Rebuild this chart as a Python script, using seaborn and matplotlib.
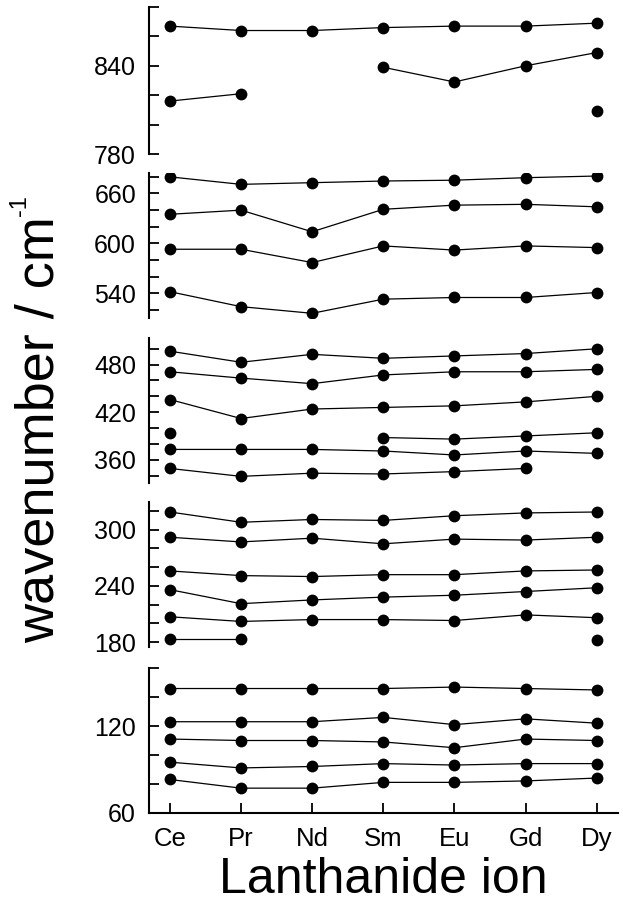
import numpy as np
import pandas as pd
import matplotlib
matplotlib.use("Agg")
import matplotlib.pyplot as plt
from matplotlib.ticker import MultipleLocator
import seaborn as sns

# lanthanide ions on the x axis
ions = ["Ce", "Pr", "Nd", "Sm", "Eu", "Gd", "Dy"]
nan = np.nan

# band positions (cm-1), one list per band, NaN = not observed
# panel 1 (780-880)
p1_a = [867, 864, 864, 866, 867, 867, 869]
p1_b = [816, 821, nan, 839, 829, 840, 849]
p1_c = [nan, nan, nan, nan, nan, nan, 809]
# panel 2 (510-685)
p2_a = [680, 671, 673, 675, 676, 679, 681]
p2_b = [635, 640, 614, 641, 646, 647, 644]
p2_c = [593, 593, 577, 597, 592, 597, 595]
p2_d = [542, 524, 516, 533, 535, 535, 541]
# panel 3 (331-514)
p3_a = [497, 483, 493, 488, 491, 494, 500]
p3_b = [471, 463, 456, 467, 471, 471, 474]
p3_c = [436, 412, 424, 426, 428, 433, 440]
p3_d = [394, nan, nan, 388, 386, 390, 394]
p3_e = [373, 373, 373, 371, 366, 371, 368]
p3_f = [349, 339, 343, 342, 345, 349, nan]
# panel 4 (175-330)
p4_a = [319, 308, 311, 310, 315, 318, 319]
p4_b = [292, 287, 291, 285, 290, 289, 292]
p4_c = [256, 251, 250, 252, 252, 256, 257]
p4_d = [236, 221, 225, 228, 230, 234, 238]
p4_e = [207, 202, 204, 204, 203, 209, 206]
p4_f = [183, 183, nan, nan, nan, nan, 182]
# panel 5 (60-160)
p5_a = [146, 146, 146, 146, 147, 146, 145]
p5_b = [123, 123, 123, 126, 121, 125, 122]
p5_c = [111, 110, 110, 109, 105, 111, 110]
p5_d = [95, 91, 92, 94, 93, 94, 94]
p5_e = [83, 77, 77, 81, 81, 82, 84]

panels = [
    ([p1_a, p1_b, p1_c], (780, 880)),
    ([p2_a, p2_b, p2_c, p2_d], (510, 685)),
    ([p3_a, p3_b, p3_c, p3_d, p3_e, p3_f], (331, 514)),
    ([p4_a, p4_b, p4_c, p4_d, p4_e, p4_f], (175, 330)),
    ([p5_a, p5_b, p5_c, p5_d, p5_e], (60, 160)),
]

sns.set_style("ticks")
plt.rcParams['font.family'] = ['Liberation Sans', 'DejaVu Sans']
plt.rcParams['text.color'] = 'black'
plt.rcParams['axes.edgecolor'] = 'black'
plt.rcParams['xtick.color'] = 'black'
plt.rcParams['ytick.color'] = 'black'
plt.rcParams['xtick.direction'] = 'in'
plt.rcParams['ytick.direction'] = 'in'


def to_long(series_list):
    """split every band into connected pieces (gaps at NaN)"""
    rows = []
    seg = 0
    for s in series_list:
        prev_ok = False
        for i, v in enumerate(s):
            if np.isnan(v):
                prev_ok = False
                continue
            if not prev_ok:
                seg += 1
            rows.append({'x': i, 'y': v, 'seg': seg})
            prev_ok = True
    return pd.DataFrame(rows)


W, H = 623, 905
fig = plt.figure(figsize=(W / 100, H / 100), dpi=100)

# panel pixel extents (top, bottom)
boxes = [(7, 154), (172.7, 318.3), (337.7, 482.7), (501.7, 646.7), (668.3, 812.7)]
x0, x1 = 148.5, 618

for k, ((series, ylim), (top, bot)) in enumerate(zip(panels, boxes)):
    ax = fig.add_axes([x0 / W, 1 - bot / H, (x1 - x0) / W, (bot - top) / H])
    df = to_long(series)
    sns.lineplot(data=df, x='x', y='y', units='seg', estimator=None,
                 color='black', marker='o', markersize=8.5, markeredgewidth=0,
                 linewidth=0.9, ax=ax)
    ax.set_xlim(-0.3, 6.3)
    ax.set_ylim(*ylim)
    ax.yaxis.set_major_locator(MultipleLocator(60))
    ax.yaxis.set_minor_locator(MultipleLocator(20))
    ax.tick_params(axis='y', which='both', direction='in', length=7,
                   width=1.3, labelsize=18, pad=9)
    ax.set_xlabel('')
    ax.set_ylabel('')
    for side in ['top', 'right']:
        ax.spines[side].set_visible(False)
    ax.spines['left'].set_linewidth(1.5)
    if k < 4:
        ax.spines['bottom'].set_visible(False)
        ax.set_xticks([])
    else:
        ax.spines['bottom'].set_linewidth(1.5)
        ax.set_xticks(range(len(ions)))
        ax.set_xticklabels(ions)
        ax.tick_params(axis='x', direction='in', length=7, width=1.3,
                       labelsize=18.5, pad=10)

# y label with a small superscript
ylab = fig.text(40 / W, 1 - 430 / H, 'wavenumber / cm', rotation=90,
                fontsize=39, ha='center', va='center')
fig.canvas.draw()
bb = ylab.get_window_extent(fig.canvas.get_renderer())
fig.text(20 / W, (bb.y1 + 1) / H, '-1', rotation=90, fontsize=17,
         ha='center', va='bottom')

fig.text((x0 + x1) / 2 / W, 1 - 893 / H, 'Lanthanide ion',
         fontsize=36, ha='center', va='baseline')

fig.savefig('out.png', dpi=100)
